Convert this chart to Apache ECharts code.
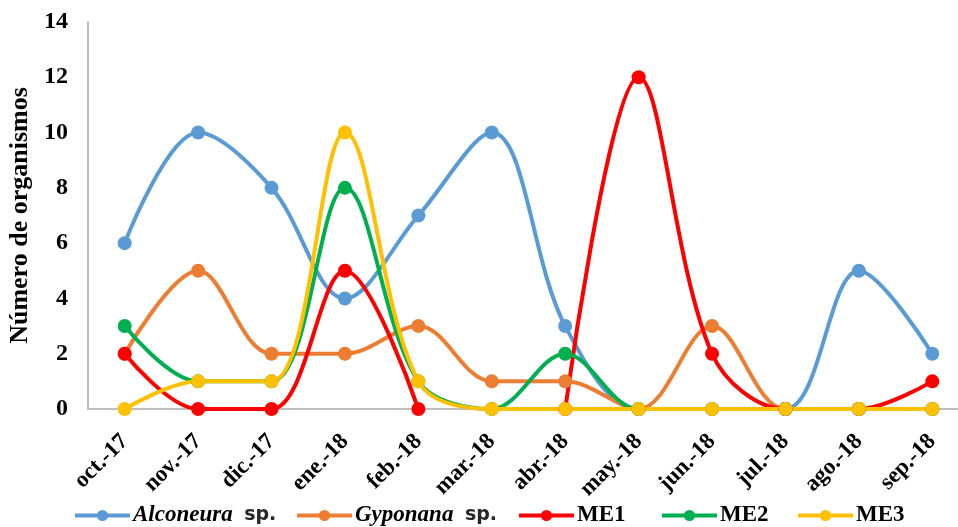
<!DOCTYPE html>
<html>
<head>
<meta charset="utf-8">
<script src="https://cdn.jsdelivr.net/npm/echarts@6/dist/echarts.min.js"></script>
<style>
  html, body { margin: 0; padding: 0; background: #fff; }
  #chart { width: 958px; height: 527px; }
</style>
</head>
<body>
<div id="chart"></div>
<script>
// Monthly counts of organisms per group
const months = ['oct.-17', 'nov.-17', 'dic.-17', 'ene.-18', 'feb.-18', 'mar.-18',
                'abr.-18', 'may.-18', 'jun.-18', 'jul.-18', 'ago.-18', 'sep.-18'];
const alconeura = [6, 10, 8, 4, 7, 10, 3, 0, 0, 0, 5, 2];
const gyponana  = [2, 5, 2, 2, 3, 1, 1, 0, 3, 0, 0, 0];
const me1       = [2, 0, 0, 5, 0, null, 0, 12, 2, 0, 0, 1];
const me2       = [3, 1, 1, 8, 1, 0, 2, 0, 0, 0, 0, 0];
const me3       = [0, 1, 1, 10, 1, 0, 0, 0, 0, 0, 0, 0];
const yTicks = { min: 0, max: 14, interval: 2 };

const seriesNames = ['Alconeura sp.', 'Gyponana sp.', 'ME1', 'ME2', 'ME3'];
const seriesColors = ['#5B9BD5', '#ED7D31', '#FF0000', '#00B050', '#FFC000'];
const legendLeft = [73, 295, 517, 660, 796];

const FONT = '"Liberation Serif", "Times New Roman", serif';

function line(name, data, color) {
  return {
    name: name,
    type: 'line',
    data: data,
    smooth: 0.35,
    connectNulls: false,
    symbol: 'circle',
    symbolSize: 14,
    lineStyle: { width: 4, color: color },
    itemStyle: { color: color },
    emphasis: { disabled: true }
  };
}

// one legend block per series so each entry sits at its own x
const legends = seriesNames.map(function (n, i) {
  return {
    top: 504,
    left: legendLeft[i],
    padding: 0,
    itemWidth: 55,
    itemHeight: 14,
    itemGap: 0,
    lineStyle: { width: 4 },
    itemStyle: { borderWidth: 0 },
    textStyle: {
      color: '#000',
      fontFamily: FONT,
      fontWeight: 'bold',
      fontSize: 23,
      padding: [0, 0, 0, -2],
      rich: {
        it: { fontFamily: FONT, fontStyle: 'italic', fontWeight: 'bold', fontSize: 23, color: '#000' },
        sp: { fontFamily: '"DejaVu Sans", sans-serif', fontWeight: 'bold', fontSize: 19, color: '#262626' }
      }
    },
    formatter: function (name) {
      if (name === 'Alconeura sp.') return '{it|Alconeura}  {sp|sp.}';
      if (name === 'Gyponana sp.') return '{it|Gyponana}  {sp|sp.}';
      return name;
    },
    data: [n]
  };
});

const chart = echarts.init(document.getElementById('chart'), null, { renderer: 'canvas' });
chart.setOption({
  animation: false,
  backgroundColor: '#ffffff',
  textStyle: { fontFamily: FONT },
  grid: { left: 88, right: -11, top: 22, bottom: 118, containLabel: false, outerBoundsMode: 'none' },
  xAxis: {
    type: 'category',
    data: months,
    boundaryGap: true,
    axisLine: { lineStyle: { color: '#bfbfbf', width: 2 } },
    axisTick: { show: false },
    axisLabel: {
      rotate: 45,
      margin: 29,
      color: '#000',
      fontFamily: FONT,
      fontWeight: 'bold',
      fontSize: 23
    }
  },
  yAxis: {
    type: 'value',
    min: yTicks.min,
    max: yTicks.max,
    interval: yTicks.interval,
    name: 'Número de organismos',
    nameLocation: 'middle',
    nameGap: 54,
    nameTextStyle: { color: '#000', fontFamily: FONT, fontWeight: 'bold', fontSize: 26 },
    axisLine: { show: true, lineStyle: { color: '#bfbfbf', width: 2 } },
    axisTick: { show: false },
    splitLine: { show: false },
    axisLabel: {
      margin: 20,
      color: '#000',
      fontFamily: FONT,
      fontWeight: 'bold',
      fontSize: 24
    }
  },
  legend: legends,
  series: seriesNames.map(function (n, i) {
    return line(n, [alconeura, gyponana, me1, me2, me3][i], seriesColors[i]);
  })
});
</script>
</body>
</html>
